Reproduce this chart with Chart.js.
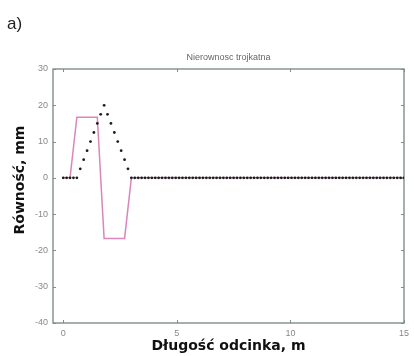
<!DOCTYPE html>
<html>
<head>
<meta charset="utf-8">
<script src="https://cdn.jsdelivr.net/npm/chart.js@4.4.1/dist/chart.umd.min.js"></script>
<style>
  html, body { margin: 0; padding: 0; background: #ffffff; }
  #wrap { width: 414px; height: 356px; position: relative; }
</style>
</head>
<body>
<div id="wrap"><canvas id="c" width="414" height="356"></canvas></div>
<script>
// Profile sampled every 0.15 m (distance along the section, m)
const profileX = [
  0, 0.15, 0.3, 0.45, 0.6, 0.75, 0.9, 1.05, 1.2, 1.35, 1.5, 1.65, 1.8, 1.95, 2.1, 2.25, 2.4, 2.55, 2.7, 2.85,
  3, 3.15, 3.3, 3.45, 3.6, 3.75, 3.9, 4.05, 4.2, 4.35, 4.5, 4.65, 4.8, 4.95, 5.1, 5.25, 5.4, 5.55, 5.7, 5.85,
  6, 6.15, 6.3, 6.45, 6.6, 6.75, 6.9, 7.05, 7.2, 7.35, 7.5, 7.65, 7.8, 7.95, 8.1, 8.25, 8.4, 8.55, 8.7, 8.85,
  9, 9.15, 9.3, 9.45, 9.6, 9.75, 9.9, 10.05, 10.2, 10.35, 10.5, 10.65, 10.8, 10.95, 11.1, 11.25, 11.4, 11.55, 11.7, 11.85,
  12, 12.15, 12.3, 12.45, 12.6, 12.75, 12.9, 13.05, 13.2, 13.35, 13.5, 13.65, 13.8, 13.95, 14.1, 14.25, 14.4, 14.55, 14.7, 14.85,
  15
];
// Triangular unevenness, mm
const profileY = [
  0, 0, 0, 0, 0, 2.5, 5, 7.5, 10, 12.5, 15, 17.5, 20, 17.5, 15, 12.5, 10, 7.5, 5, 2.5,
  0, 0, 0, 0, 0, 0, 0, 0, 0, 0, 0, 0, 0, 0, 0, 0, 0, 0, 0, 0,
  0, 0, 0, 0, 0, 0, 0, 0, 0, 0, 0, 0, 0, 0, 0, 0, 0, 0, 0, 0,
  0, 0, 0, 0, 0, 0, 0, 0, 0, 0, 0, 0, 0, 0, 0, 0, 0, 0, 0, 0,
  0, 0, 0, 0, 0, 0, 0, 0, 0, 0, 0, 0, 0, 0, 0, 0, 0, 0, 0, 0,
  0
];
// Measured response (pink trace)
const responseX = [0, 0.3, 0.6, 0.9, 1.2, 1.5, 1.8, 2.1, 2.4, 2.7, 3, 15];
const responseY = [0, 0, 16.7, 16.7, 16.7, 16.7, -16.7, -16.7, -16.7, -16.7, 0, 0];

const xTicks = [0, 5, 10, 15];
const yTicks = [-40, -30, -20, -10, 0, 10, 20, 30];

const chartTitle = 'Nierownosc trojkatna';
const panelLabel = 'a)';
const xTitle = 'Długość odcinka, m';
const yTitle = 'Równość, mm';

const frameColor = '#7e8f86';

// Frame with inward ticks on all four sides, plus the text around the plot
const framePlugin = {
  id: 'frame',
  beforeDatasetsDraw(chart) {
    const { ctx, chartArea: a, scales } = chart;
    ctx.save();
    ctx.strokeStyle = frameColor;
    ctx.lineWidth = 1.4;
    ctx.strokeRect(a.left, a.top, a.right - a.left, a.bottom - a.top);
    ctx.lineWidth = 1;
    const t = 3;
    scales.x.ticks.forEach(tk => {
      const px = Math.round(scales.x.getPixelForValue(tk.value)) + 0.5;
      ctx.beginPath();
      ctx.moveTo(px, a.bottom); ctx.lineTo(px, a.bottom - t);
      ctx.moveTo(px, a.top); ctx.lineTo(px, a.top + t);
      ctx.stroke();
    });
    scales.y.ticks.forEach(tk => {
      const py = Math.round(scales.y.getPixelForValue(tk.value)) + 0.5;
      ctx.beginPath();
      ctx.moveTo(a.left, py); ctx.lineTo(a.left + t, py);
      ctx.moveTo(a.right, py); ctx.lineTo(a.right - t, py);
      ctx.stroke();
    });
    ctx.restore();
  },
  afterDraw(chart) {
    const { ctx, chartArea: a } = chart;
    ctx.save();
    ctx.fillStyle = '#222';
    ctx.font = '17px "Liberation Sans", Arial, sans-serif';
    ctx.textAlign = 'left';
    ctx.textBaseline = 'middle';
    ctx.fillText(panelLabel, 7, 24);

    ctx.fillStyle = '#666';
    ctx.font = '9px "Liberation Sans", Arial, sans-serif';
    ctx.textAlign = 'center';
    ctx.fillText(chartTitle, (a.left + a.right) / 2, 58);

    ctx.fillStyle = '#111';
    ctx.font = 'bold 14px "DejaVu Sans", sans-serif';
    ctx.fillText(xTitle, (a.left + a.right) / 2, 346);

    ctx.translate(20, 180);
    ctx.rotate(-Math.PI / 2);
    ctx.fillText(yTitle, 0, 0);
    ctx.restore();
  }
};

new Chart(document.getElementById('c'), {
  type: 'scatter',
  data: {
    datasets: [
      {
        label: 'response',
        data: responseX.map((x, i) => ({ x, y: responseY[i] })),
        showLine: true,
        borderColor: '#d986bb',
        borderWidth: 1.5,
        pointRadius: 0,
        order: 2
      },
      {
        label: 'profile',
        data: profileX.map((x, i) => ({ x, y: profileY[i] })),
        showLine: false,
        pointRadius: 1.4,
        pointBackgroundColor: '#1e1e1e',
        pointBorderWidth: 0,
        order: 1
      }
    ]
  },
  options: {
    responsive: false,
    animation: false,
    devicePixelRatio: 1,
    layout: { padding: { top: 69, right: 4, bottom: 0, left: 0 } },
    plugins: {
      legend: { display: false },
      tooltip: { enabled: false },
      title: { display: false }
    },
    scales: {
      x: {
        type: 'linear',
        min: -0.45,
        max: 15,
        afterBuildTicks: s => { s.ticks = xTicks.map(v => ({ value: v })); },
        afterFit: s => { s.height = 33; },
        grid: { display: false, drawTicks: false, tickLength: 0 },
        border: { display: false },
        ticks: {
          color: '#888',
          font: { family: '"Liberation Sans", Arial, sans-serif', size: 9 },
          padding: 5,
          maxRotation: 0
        }
      },
      y: {
        type: 'linear',
        min: -40,
        max: 30,
        afterBuildTicks: s => { s.ticks = yTicks.map(v => ({ value: v })); },
        afterFit: s => { s.width = 53; },
        grid: { display: false, drawTicks: false, tickLength: 0 },
        border: { display: false },
        ticks: {
          color: '#888',
          font: { family: '"Liberation Sans", Arial, sans-serif', size: 9 },
          padding: 5
        }
      }
    }
  },
  plugins: [framePlugin]
});
</script>
</body>
</html>
